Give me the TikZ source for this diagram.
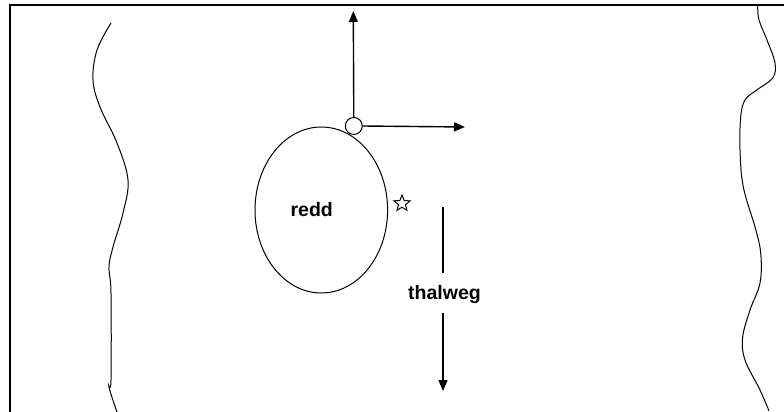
\documentclass[tikz,border=0pt]{standalone}
\usepackage{fontspec}
\setmainfont{Liberation Sans}
\usetikzlibrary{shapes.geometric,arrows.meta}

\tikzset{
  frame/.style={line width=2.4pt, line cap=rect},
  bank/.style={line width=1pt},
  arrowline/.style={line width=1.4pt, -{Triangle[length=11pt,width=9pt]}},
  lbl/.style={font=\bfseries\fontsize{19.5}{23}\selectfont, inner sep=1pt},
}

\begin{document}
\begin{tikzpicture}[x=1pt,y=-1pt]
  \useasboundingbox (0,0) rectangle (784,412);

  % frame: left edge and top edge
  \draw[frame] (10,412) -- (10,5) -- (784,5);

  % left bank
  \draw[bank] plot[smooth, tension=0.6] coordinates {
    (111,23) (97,50) (93,80) (100,107) (117,143) (128,180) (123,213)
    (113,247) (109,267) (111,293) (111,380) (109,387) (117,412)};

  % right bank
  \draw[bank] plot[smooth, tension=0.6] coordinates {
    (757.7,6) (759,20) (767,40) (775,63) (772.7,78) (756.7,90) (745,100)
    (740.7,117) (740,150) (743.3,187) (755,227) (760.7,253) (760,283)
    (750,310) (742.7,337) (745,360) (760,390) (769,411)};

  % redd outline and label
  \node[ellipse, draw, line width=1pt, minimum width=132.6pt,
        minimum height=166pt, inner sep=0pt] (redd) at (321.3,210) {};
  \node[lbl] (reddtext) at (311.7,210) {redd};

  % origin of the local axes
  \node[circle, draw, fill=white, line width=1pt, minimum size=17pt,
        inner sep=0pt] (origin) at (353.8,126) {};
  \coordinate (uptip) at (353.3,11);
  \coordinate (righttip) at (465,127);
  \draw[arrowline] (origin.north) -- (uptip);
  \draw[arrowline] (origin.east) -- (righttip);

  % star marker
  \node[star, star points=5, star point ratio=2.3, draw, line width=1pt,
        minimum size=17pt, inner sep=0pt] (star) at (402,203.5) {};

  % thalweg direction
  \node[lbl] (thalweg) at (444.5,294) {thalweg};
  \coordinate (thtop) at (443,207);
  \coordinate (thabove) at (443,273);
  \coordinate (thbelow) at (443,313);
  \coordinate (thtip) at (443,391);
  \draw[line width=1.4pt] (thtop) -- (thabove);
  \draw[arrowline] (thbelow) -- (thtip);
\end{tikzpicture}
\end{document}
